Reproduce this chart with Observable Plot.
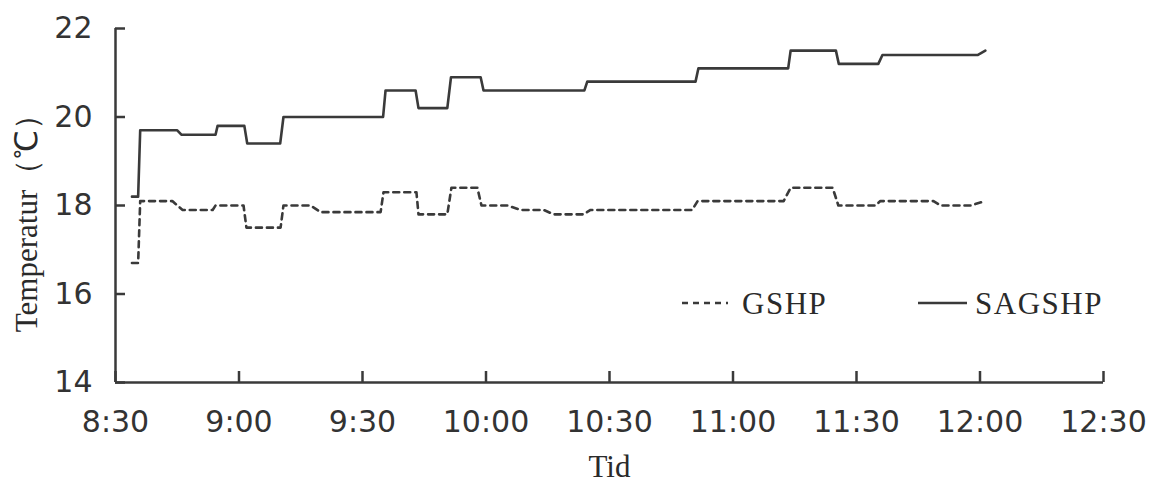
<!DOCTYPE html>
<html>
<head>
<meta charset="utf-8">
<script src="https://cdn.jsdelivr.net/npm/d3@7"></script>
<script src="https://cdn.jsdelivr.net/npm/@observablehq/plot@0.6"></script>
<style>
  html, body { margin: 0; padding: 0; background: #fff; }
  #wrap { position: relative; width: 1153px; height: 483px; }
  #legend { position: absolute; left: 0; top: 0; width: 1153px; height: 483px; pointer-events: none; }
</style>
</head>
<body>
<div id="wrap"></div>
<script>
// Time in minutes after 8:30
const xTickValues = [0, 30, 60, 90, 120, 150, 180, 210, 240];
const xTickLabels = ["8:30", "9:00", "9:30", "10:00", "10:30", "11:00", "11:30", "12:00", "12:30"];
const yTickValues = [14, 16, 18, 20, 22];

const seriesNames = ["GSHP", "SAGSHP"];

const gshpTime = [4, 5.5, 6, 13.8, 16.3, 23.6, 24.3, 31.1, 31.8, 40.1, 40.8, 47.4, 49.8, 64.4, 65.1, 73.1, 73.6, 80.6, 81.6, 87.9, 88.9, 95.2, 98.4, 104, 106.4, 113.7, 115.4, 140.1, 141.4, 162.3, 164, 174.2, 175.6, 184.6, 185.8, 198.7, 200.4, 207.7, 211.3];
const gshpTemp = [16.7, 16.7, 18.1, 18.1, 17.9, 17.9, 18.0, 18.0, 17.5, 17.5, 18.0, 18.0, 17.85, 17.85, 18.3, 18.3, 17.8, 17.8, 18.4, 18.4, 18.0, 18.0, 17.9, 17.9, 17.8, 17.8, 17.9, 17.9, 18.1, 18.1, 18.4, 18.4, 18.0, 18.0, 18.1, 18.1, 18.0, 18.0, 18.1];

const sagTime = [4, 5.5, 6, 15, 16, 24.3, 24.8, 31.3, 32, 40, 40.8, 65, 65.6, 72.9, 73.6, 80.6, 81.5, 88.7, 89.4, 113.9, 114.6, 140.9, 141.6, 163.4, 164, 175, 175.7, 185.3, 186.3, 209.4, 211.3];
const sagTemp = [18.2, 18.2, 19.7, 19.7, 19.6, 19.6, 19.8, 19.8, 19.4, 19.4, 20.0, 20.0, 20.6, 20.6, 20.2, 20.2, 20.9, 20.9, 20.6, 20.6, 20.8, 20.8, 21.1, 21.1, 21.5, 21.5, 21.2, 21.2, 21.4, 21.4, 21.5];

const gshpData = gshpTime.map((t, i) => ({t, v: gshpTemp[i]}));
const sagData = sagTime.map((t, i) => ({t, v: sagTemp[i]}));

const ink = "#3a3a3a";
const sans = "DejaVu Sans, sans-serif";
const serif = "Liberation Serif, Times New Roman, serif";

const chart = Plot.plot({
  width: 1153,
  height: 483,
  marginLeft: 115,
  marginRight: 50,
  marginTop: 28,
  marginBottom: 101,
  style: {background: "#fff", color: ink, fontFamily: sans, fontSize: "30px", overflow: "visible"},
  x: {domain: [0, 240]},
  y: {domain: [14, 22]},
  marks: [
    Plot.axisX({ticks: xTickValues, tickFormat: (d) => xTickLabels[xTickValues.indexOf(d)], tickSize: -11, tickPadding: 39, strokeWidth: 2.5, stroke: ink, fill: "#333", fontSize: 30, fontFamily: sans, label: null}),
    Plot.axisY({ticks: yTickValues, tickSize: -10, tickPadding: 33, strokeWidth: 2.5, stroke: ink, fill: "#333", fontSize: 30, fontFamily: sans, label: null}),
    Plot.ruleY([14], {stroke: ink, strokeWidth: 2.5}),
    Plot.ruleX([0], {stroke: ink, strokeWidth: 2.5}),
    Plot.line(gshpData, {x: "t", y: "v", stroke: ink, strokeWidth: 2.6, strokeDasharray: "6,5"}),
    Plot.line(sagData, {x: "t", y: "v", stroke: ink, strokeWidth: 2.6}),
    Plot.text(["Temperatur（℃）"], {frameAnchor: "left", rotate: -90, dx: -88, dy: 10, fontSize: 31, fontFamily: serif, fill: "#2a2a2a", textAnchor: "middle", lineAnchor: "middle"}),
    Plot.text(["Tid"], {frameAnchor: "bottom", dy: 85, fontSize: 31, fontFamily: serif, fill: "#2a2a2a", lineAnchor: "middle"})
  ]
});

const wrap = document.getElementById("wrap");
wrap.appendChild(chart);

// Legend overlay
const ns = "http://www.w3.org/2000/svg";
const leg = document.createElementNS(ns, "svg");
leg.setAttribute("id", "legend");
leg.setAttribute("width", 1153);
leg.setAttribute("height", 483);
const legendItems = [
  {name: seriesNames[0], dash: "6,5", x0: 682, x1: 728, tx: 742},
  {name: seriesNames[1], dash: null, x0: 918, x1: 967, tx: 975}
];
for (const it of legendItems) {
  const l = document.createElementNS(ns, "line");
  l.setAttribute("x1", it.x0); l.setAttribute("x2", it.x1);
  l.setAttribute("y1", 303); l.setAttribute("y2", 303);
  l.setAttribute("stroke", ink); l.setAttribute("stroke-width", 2.5);
  if (it.dash) l.setAttribute("stroke-dasharray", it.dash);
  leg.appendChild(l);
  const t = document.createElementNS(ns, "text");
  t.setAttribute("x", it.tx); t.setAttribute("y", 303);
  t.setAttribute("dy", "0.35em");
  t.setAttribute("font-family", serif);
  t.setAttribute("font-size", 31);
  t.setAttribute("letter-spacing", "1.5");
  t.setAttribute("fill", "#2a2a2a");
  t.textContent = it.name;
  leg.appendChild(t);
}
wrap.appendChild(leg);
</script>
</body>
</html>
